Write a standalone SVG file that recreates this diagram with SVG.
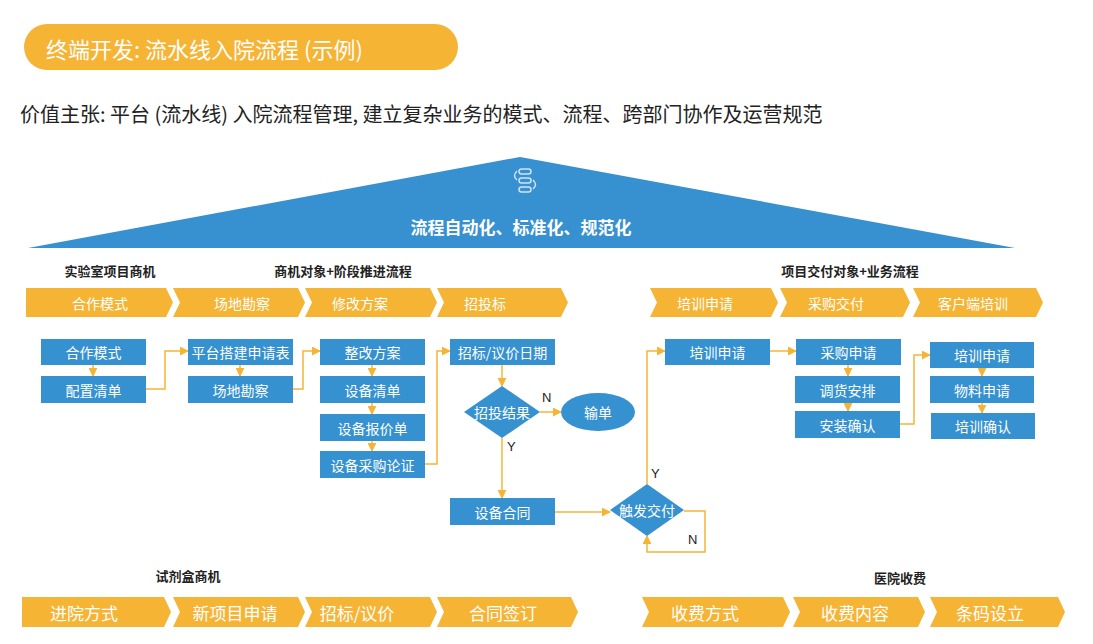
<svg xmlns="http://www.w3.org/2000/svg" width="1093" height="644" viewBox="0 0 1093 644">
<defs>
<style>
text{font-family:"Noto Sans CJK SC","Noto Sans",sans-serif}
.b{fill:#3591D0}
.bt{fill:#fff;font-size:14px;text-anchor:middle;dominant-baseline:central}
.ch{fill:#F6B435}
.ct{fill:#fff;font-size:14px;text-anchor:middle;dominant-baseline:central}
.ct2{fill:#fff;font-size:17px;text-anchor:middle;dominant-baseline:central}
.sec{fill:#222;font-size:13px;font-weight:bold;text-anchor:middle;dominant-baseline:central}
.c{fill:none;stroke:#F6B435;stroke-width:1.5}
.yn{fill:#222;font-size:13px;font-family:"Liberation Sans",sans-serif}
</style>
<marker id="a" viewBox="0 0 10 10" refX="9" refY="5" markerWidth="6" markerHeight="6" orient="auto"><path d="M0,0L10,5L0,10z" fill="#F6B435"/></marker>
</defs>
<rect width="1093" height="644" fill="#fff"/>
<g id="title"><rect x="24" y="24" width="434" height="46" rx="23" fill="#F6B435"/><text x="46" y="48" fill="#fff" font-size="22" dominant-baseline="central">终端开发: 流水线入院流程 (示例)</text></g>
<text x="20" y="113" fill="#222" font-size="20" dominant-baseline="central">价值主张: 平台 (流水线) 入院流程管理, 建立复杂业务的模式、流程、跨部门协作及运营规范</text>
<g id="roof"><polygon points="28,248 520,157 1015,248" fill="#3790CF"/>
<g fill="none" stroke="#cfe3f3" stroke-width="1.5"><rect x="519" y="169" width="12" height="5" rx="2.5"/><rect x="519" y="178" width="12" height="5" rx="2.5"/><rect x="519" y="187" width="12" height="5" rx="2.5"/><path d="M517,171 q-5,5 0,9 M533,180 q5,5 0,9"/></g>
<text x="521" y="226" fill="#fff" font-size="17" font-weight="bold" text-anchor="middle" dominant-baseline="central">流程自动化、标准化、规范化</text></g>
<text class="sec" x="110" y="270">实验室项目商机</text>
<text class="sec" x="343" y="270">商机对象+阶段推进流程</text>
<text class="sec" x="850" y="270">项目交付对象+业务流程</text>
<text class="sec" x="188" y="575">试剂盒商机</text>
<text class="sec" x="900" y="577">医院收费</text>
<g id="stages1">
<polygon class="ch" points="26,288 166,288 173,302.5 166,317 26,317"/><text class="ct" x="100" y="302.5">合作模式</text>
<polygon class="ch" points="173,288 298,288 305,302.5 298,317 173,317 180,302.5"/><text class="ct" x="242" y="302.5">场地勘察</text>
<polygon class="ch" points="305,288 430,288 437,302.5 430,317 305,317 312,302.5"/><text class="ct" x="360" y="302.5">修改方案</text>
<polygon class="ch" points="437,288 561,288 568,302.5 561,317 437,317 444,302.5"/><text class="ct" x="485" y="302.5">招投标</text>
<polygon class="ch" points="650,288 771,288 778,302.5 771,317 650,317 657,302.5"/><text class="ct" x="705" y="302.5">培训申请</text>
<polygon class="ch" points="780,288 903,288 910,302.5 903,317 780,317 787,302.5"/><text class="ct" x="836" y="302.5">采购交付</text>
<polygon class="ch" points="913,288 1036,288 1043,302.5 1036,317 913,317 920,302.5"/><text class="ct" x="973" y="302.5">客户端培训</text>
</g>
<g id="stages2">
<polygon class="ch" points="22,597 164,597 171,612 164,627 22,627"/><text class="ct2" x="84" y="612">进院方式</text>
<polygon class="ch" points="173,597 298,597 305,612 298,627 173,627 180,612"/><text class="ct2" x="235" y="612">新项目申请</text>
<polygon class="ch" points="305,597 430,597 437,612 430,627 305,627 312,612"/><text class="ct2" x="357" y="612">招标/议价</text>
<polygon class="ch" points="437,597 571,597 578,612 571,627 437,627 444,612"/><text class="ct2" x="503" y="612">合同签订</text>
<polygon class="ch" points="642,597 783,597 790,612 783,627 642,627 649,612"/><text class="ct2" x="705" y="612">收费方式</text>
<polygon class="ch" points="793,597 918,597 925,612 918,627 793,627 800,612"/><text class="ct2" x="855" y="612">收费内容</text>
<polygon class="ch" points="930,597 1058,597 1065,612 1058,627 930,627 937,612"/><text class="ct2" x="990" y="612">条码设立</text>
</g>
<g id="connectors">
<path class="c" marker-end="url(#a)" d="M93,365V376"/>
<path class="c" marker-end="url(#a)" d="M146,389H165V351H188"/>
<path class="c" marker-end="url(#a)" d="M240,365V376"/>
<path class="c" marker-end="url(#a)" d="M293,389H303V351H320"/>
<path class="c" marker-end="url(#a)" d="M372,365V376"/>
<path class="c" marker-end="url(#a)" d="M372,403V414"/>
<path class="c" marker-end="url(#a)" d="M372,441V451"/>
<path class="c" marker-end="url(#a)" d="M425,464H437V351H450"/>
<path class="c" marker-end="url(#a)" d="M502,365V386"/>
<path class="c" marker-end="url(#a)" d="M540,412H561"/>
<path class="c" marker-end="url(#a)" d="M502,438V498"/>
<path class="c" marker-end="url(#a)" d="M555,512H610"/>
<path class="c" marker-end="url(#a)" d="M647,484V351H665"/>
<path class="c" marker-end="url(#a)" d="M684,511H705V552H647V536"/>
<path class="c" marker-end="url(#a)" d="M770,351H796"/>
<path class="c" marker-end="url(#a)" d="M848,365V376"/>
<path class="c" marker-end="url(#a)" d="M848,403V411"/>
<path class="c" marker-end="url(#a)" d="M900,424H914V355H930"/>
<path class="c" marker-end="url(#a)" d="M982,368V376"/>
<path class="c" marker-end="url(#a)" d="M982,403V413"/>
<text class="yn" x="542" y="402">N</text>
<text class="yn" x="507" y="451">Y</text>
<text class="yn" x="651" y="478">Y</text>
<text class="yn" x="688" y="544">N</text>
</g>
<g id="n1"><rect class="b" x="41" y="339" width="105" height="26"/><text class="bt" x="93.5" y="352">合作模式</text></g>
<g id="n2"><rect class="b" x="41" y="376" width="105" height="27"/><text class="bt" x="93.5" y="389.5">配置清单</text></g>
<g id="n3"><rect class="b" x="188" y="339" width="105" height="26"/><text class="bt" x="240.5" y="352">平台搭建申请表</text></g>
<g id="n4"><rect class="b" x="188" y="376" width="105" height="27"/><text class="bt" x="240.5" y="389.5">场地勘察</text></g>
<g id="n5"><rect class="b" x="320" y="339" width="105" height="26"/><text class="bt" x="372.5" y="352">整改方案</text></g>
<g id="n6"><rect class="b" x="320" y="376" width="105" height="27"/><text class="bt" x="372.5" y="389.5">设备清单</text></g>
<g id="n7"><rect class="b" x="320" y="414" width="105" height="27"/><text class="bt" x="372.5" y="427.5">设备报价单</text></g>
<g id="n8"><rect class="b" x="320" y="451" width="105" height="27"/><text class="bt" x="372.5" y="464.5">设备采购论证</text></g>
<g id="n9"><rect class="b" x="450" y="339" width="105" height="26"/><text class="bt" x="502.5" y="352">招标/议价日期</text></g>
<g id="n10"><polygon class="b" points="502,386 540,412 502,438 464,412"/><text class="bt" x="502" y="412">招投结果</text></g>
<g id="n11"><ellipse class="b" cx="598" cy="412" rx="37" ry="19"/><text class="bt" x="598" y="412">输单</text></g>
<g id="n12"><rect class="b" x="450" y="498" width="105" height="27"/><text class="bt" x="502.5" y="511.5">设备合同</text></g>
<g id="n13"><polygon class="b" points="647,484 684,510 647,536 610,510"/><text class="bt" x="647" y="510">触发交付</text></g>
<g id="n14"><rect class="b" x="665" y="339" width="105" height="26"/><text class="bt" x="717.5" y="352">培训申请</text></g>
<g id="n15"><rect class="b" x="796" y="339" width="105" height="26"/><text class="bt" x="848.5" y="352">采购申请</text></g>
<g id="n16"><rect class="b" x="795" y="376" width="105" height="27"/><text class="bt" x="847.5" y="389.5">调货安排</text></g>
<g id="n17"><rect class="b" x="795" y="411" width="105" height="27"/><text class="bt" x="847.5" y="424.5">安装确认</text></g>
<g id="n18"><rect class="b" x="930" y="342" width="104" height="26"/><text class="bt" x="982" y="355">培训申请</text></g>
<g id="n19"><rect class="b" x="930" y="376" width="104" height="27"/><text class="bt" x="982" y="389.5">物料申请</text></g>
<g id="n20"><rect class="b" x="931" y="413" width="104" height="26"/><text class="bt" x="983" y="426">培训确认</text></g>
</svg>
